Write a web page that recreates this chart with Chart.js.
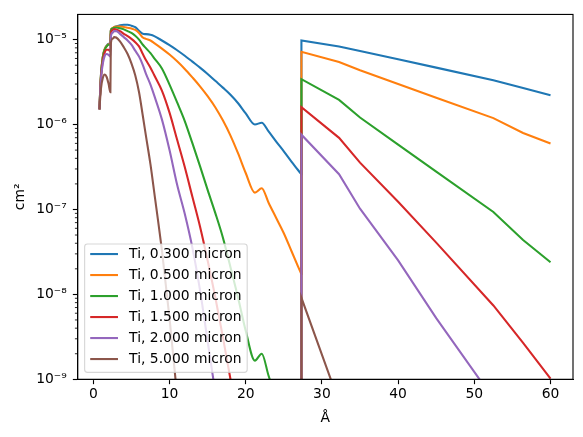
<!DOCTYPE html>
<html>
<head>
<meta charset="utf-8">
<script src="https://cdn.jsdelivr.net/npm/chart.js@4.4.1/dist/chart.umd.min.js"></script>
<style>
html,body{margin:0;padding:0;background:#fff;}
canvas{display:block;}
</style>
</head>
<body>
<canvas id="c" width="583" height="437"></canvas>
<script>
// Wavelength grid (Å)
const wavelength = [0.8, 1.0, 1.25, 1.5, 1.75, 2.0, 2.24, 2.3, 2.5, 2.75, 3.0, 3.5, 4.0, 4.5, 5.0, 5.5, 6.0, 6.5, 6.9, 7.5, 8.0,
  9.0, 10.0, 11.0, 12.0, 13.0, 14.0, 15.0, 16.0, 17.0, 18.0, 19.0, 20.0,
  21.2, 22.1, 23.0, 24.0, 25.0, 26.0,
  27.29, 27.31,
  32.25, 35.0, 40.0, 45.0, 52.5, 56.4, 60.0];
// index of the last point below the Ti L edge
const edgeIndex = 39;

// Series values (cm^2)
const ti0300 = [1.51e-6, 3.80e-6, 6.31e-6, 7.76e-6, 8.51e-6, 8.91e-6, 9.12e-6, 1.29e-5,
  1.35e-5, 1.40e-5, 1.43e-5, 1.48e-5, 1.50e-5, 1.50e-5, 1.46e-5, 1.40e-5, 1.27e-5, 1.17e-5, 1.16e-5, 1.14e-5, 1.10e-5,
  9.77e-6, 8.61e-6, 7.50e-6, 6.46e-6, 5.50e-6, 4.68e-6, 3.94e-6, 3.27e-6, 2.72e-6, 2.24e-6, 1.78e-6, 1.35e-6,
  1.00e-6, 1.05e-6, 8.32e-7, 6.31e-7, 4.84e-7, 3.67e-7,
  2.60e-7, 9.77e-6,
  8.32e-6, 7.35e-6, 5.86e-6, 4.68e-6, 3.33e-6, 2.69e-6, 2.21e-6];
const ti0500 = [1.51e-6, 3.80e-6, 6.31e-6, 7.76e-6, 8.41e-6, 8.81e-6, 9.02e-6, 1.29e-5,
  1.36e-5, 1.41e-5, 1.43e-5, 1.43e-5, 1.41e-5, 1.38e-5, 1.35e-5, 1.30e-5, 1.20e-5, 1.06e-5, 1.02e-5, 9.77e-6, 9.12e-6,
  7.85e-6, 6.68e-6, 5.56e-6, 4.52e-6, 3.59e-6, 2.82e-6, 2.16e-6, 1.60e-6, 1.12e-6, 7.41e-7, 4.57e-7, 2.69e-7,
  1.58e-7, 1.78e-7, 1.20e-7, 7.94e-8, 5.25e-8, 3.24e-8,
  1.74e-8, 7.19e-6,
  5.45e-6, 4.36e-6, 3.01e-6, 2.07e-6, 1.19e-6, 7.96e-7, 5.97e-7];
const ti1000 = [1.51e-6, 3.72e-6, 6.17e-6, 7.59e-6, 8.32e-6, 8.71e-6, 8.71e-6, 1.26e-5,
  1.35e-5, 1.38e-5, 1.39e-5, 1.36e-5, 1.32e-5, 1.26e-5, 1.20e-5, 1.11e-5, 1.00e-5, 8.71e-6, 7.94e-6, 6.92e-6, 6.03e-6,
  4.57e-6, 2.95e-6, 1.82e-6, 1.10e-6, 6.03e-7, 3.24e-7, 1.70e-7, 9.12e-8, 4.68e-8, 2.09e-8, 9.12e-9, 3.72e-9,
  1.66e-9, 2.00e-9, 1.10e-9, 5.89e-10, null, null,
  1e-12, 3.42e-6,
  1.95e-6, 1.21e-6, 5.81e-7, 2.79e-7, 9.33e-8, 4.37e-8, 2.39e-8];
const ti1500 = [1.51e-6, 3.55e-6, 5.75e-6, 7.08e-6, 7.59e-6, 7.59e-6, 7.24e-6, 1.17e-5,
  1.29e-5, 1.33e-5, 1.32e-5, 1.26e-5, 1.17e-5, 1.10e-5, 1.02e-5, 9.33e-6, 8.32e-6, 6.76e-6, 5.75e-6, 4.68e-6, 3.80e-6,
  2.51e-6, 1.38e-6, 6.61e-7, 3.16e-7, 1.41e-7, 6.31e-8, 2.51e-8, 9.33e-9, 3.16e-9, 1.00e-9, 3.16e-10, null,
  null, null, null, null, null, null,
  1e-12, 1.60e-6,
  6.97e-7, 3.56e-7, 1.23e-7, 4.07e-8, 7.41e-9, 2.69e-9, 1.02e-9];
const ti2000 = [1.51e-6, 3.39e-6, 5.25e-6, 6.46e-6, 6.76e-6, 6.61e-6, 6.31e-6, 1.07e-5,
  1.20e-5, 1.26e-5, 1.26e-5, 1.17e-5, 1.07e-5, 9.77e-6, 8.71e-6, 7.41e-6, 6.31e-6, 5.01e-6, 3.98e-6, 2.95e-6, 2.19e-6,
  1.15e-6, 5.01e-7, 1.95e-7, 8.91e-8, 3.55e-8, 1.12e-8, 2.82e-9, 7.08e-10, null, null, null, null,
  null, null, null, null, null, null,
  1e-12, 7.60e-7,
  2.60e-7, 1.02e-7, 2.51e-8, 5.25e-9, 5.89e-10, null, null];
const ti5000 = [1.51e-6, 2.63e-6, 3.55e-6, 3.89e-6, 3.63e-6, 3.02e-6, 2.40e-6, 8.91e-6,
  1.02e-5, 1.07e-5, 1.06e-5, 9.55e-6, 8.13e-6, 6.76e-6, 5.25e-6, 3.80e-6, 2.40e-6, 1.26e-6, 7.41e-7, 3.39e-7, 1.58e-7,
  3.31e-8, 5.25e-9, 6.31e-10, null, null, null, null, null, null, null, null, null,
  null, null, null, null, null, null,
  1e-12, 9.12e-9,
  5.37e-10, null, null, null, null, null, null];

const seriesLabels = ['Ti, 0.300 micron', 'Ti, 0.500 micron', 'Ti, 1.000 micron',
  'Ti, 1.500 micron', 'Ti, 2.000 micron', 'Ti, 5.000 micron'];
const seriesColors = ['#1f77b4', '#ff7f0e', '#2ca02c', '#d62728', '#9467bd', '#8c564b'];
const seriesValues = [ti0300, ti0500, ti1000, ti1500, ti2000, ti5000];

const xTicks = [0, 10, 20, 30, 40, 50, 60];
const yTicks = [1e-9, 1e-8, 1e-7, 1e-6, 1e-5];

const FS = 13.89;
const FAMILY = '"DejaVu Sans", "Liberation Sans", sans-serif';
Chart.defaults.font.family = FAMILY;
Chart.defaults.font.size = FS;
Chart.defaults.color = '#000';

const SUP = {'-': '\u207B', '0': '\u2070', '1': '\u00B9', '2': '\u00B2', '3': '\u00B3', '4': '\u2074',
  '5': '\u2075', '6': '\u2076', '7': '\u2077', '8': '\u2078', '9': '\u2079'};
function powLabel(v) {
  const e = Math.round(Math.log10(v));
  return '10' + String(e).split('').map(c => SUP[c]).join('');
}

function points(vals, from, to) {
  const out = [];
  for (let j = from; j <= to; j++) out.push({x: wavelength[j], y: vals[j]});
  return out;
}

const datasets = [];
seriesValues.forEach((vals, i) => {
  const common = {
    label: seriesLabels[i],
    borderColor: seriesColors[i],
    backgroundColor: seriesColors[i],
    borderWidth: 2.08,
    pointRadius: 0,
    pointHoverRadius: 0,
    fill: false,
    spanGaps: false,
    clip: 0,
    order: seriesValues.length - 1 - i
  };
  // smooth, densely sampled part below the edge
  datasets.push(Object.assign({}, common, {
    data: points(vals, 0, edgeIndex),
    cubicInterpolationMode: 'monotone'
  }));
  // sparse tabulated part from the edge on
  datasets.push(Object.assign({}, common, {
    data: points(vals, edgeIndex, wavelength.length - 1),
    tension: 0
  }));
});

const framePlugin = {
  id: 'frame',
  afterDatasetsDraw(chart) {
    const {ctx, chartArea: a, scales: {y}} = chart;
    ctx.save();
    ctx.strokeStyle = '#000';
    ctx.lineWidth = 0.83;
    for (let e = -9; e <= -5; e++) {
      for (let k = 2; k <= 9; k++) {
        const v = k * Math.pow(10, e);
        if (v > y.max) continue;
        const py = y.getPixelForValue(v);
        ctx.beginPath();
        ctx.moveTo(a.left, py);
        ctx.lineTo(a.left - 2.78, py);
        ctx.stroke();
      }
    }
    ctx.lineWidth = 1.11;
    ctx.strokeRect(a.left, a.top, a.right - a.left, a.bottom - a.top);
    ctx.restore();
  },
  afterDraw(chart) {
    const {ctx, chartArea: a} = chart;
    ctx.save();
    ctx.font = FS + 'px ' + FAMILY;
    const pad = 0.4 * FS, handle = 2 * FS, gap = 0.8 * FS, rowH = 21;
    const textW = Math.max(...seriesLabels.map(t => ctx.measureText(t).width));
    const w = pad + handle + gap + textW + pad;
    const h = 128.3;
    const x0 = a.left + 0.5 * FS;
    const y0 = a.bottom - 0.5 * FS - h;
    const r = 2.8;
    ctx.beginPath();
    ctx.moveTo(x0 + r, y0);
    ctx.lineTo(x0 + w - r, y0);
    ctx.arcTo(x0 + w, y0, x0 + w, y0 + r, r);
    ctx.lineTo(x0 + w, y0 + h - r);
    ctx.arcTo(x0 + w, y0 + h, x0 + w - r, y0 + h, r);
    ctx.lineTo(x0 + r, y0 + h);
    ctx.arcTo(x0, y0 + h, x0, y0 + h - r, r);
    ctx.lineTo(x0, y0 + r);
    ctx.arcTo(x0, y0, x0 + r, y0, r);
    ctx.closePath();
    ctx.fillStyle = 'rgba(255,255,255,0.8)';
    ctx.fill();
    ctx.strokeStyle = 'rgba(204,204,204,0.8)';
    ctx.lineWidth = 1.11;
    ctx.stroke();
    ctx.textBaseline = 'middle';
    ctx.textAlign = 'left';
    seriesLabels.forEach((t, i) => {
      const cy = y0 + 10 + i * rowH;
      ctx.strokeStyle = seriesColors[i];
      ctx.lineWidth = 2.08;
      ctx.beginPath();
      ctx.moveTo(x0 + pad, cy);
      ctx.lineTo(x0 + pad + handle, cy);
      ctx.stroke();
      ctx.fillStyle = '#000';
      ctx.fillText(t, x0 + pad + handle + gap, cy);
    });
    ctx.restore();
  }
};

new Chart(document.getElementById('c'), {
  type: 'line',
  data: {datasets: datasets},
  options: {
    responsive: false,
    animation: false,
    devicePixelRatio: 1,
    events: [],
    layout: {padding: {left: 0, right: 10, top: 10.3, bottom: 0}},
    plugins: {legend: {display: false}, tooltip: {enabled: false}},
    scales: {
      x: {
        type: 'linear',
        min: -2.05,
        max: 62.95,
        afterBuildTicks: s => { s.ticks = xTicks.map(v => ({value: v})); },
        afterFit: s => { s.height = 57.7; },
        grid: {drawOnChartArea: false, drawTicks: true, tickLength: 4.86, tickWidth: 1.11, tickColor: '#000'},
        border: {display: true, color: '#000', width: 1.11},
        ticks: {padding: 2, maxRotation: 0, autoSkip: false, color: '#000', font: {size: FS},
          callback: v => String(v)},
        title: {display: true, text: 'Å', color: '#000', font: {size: FS}, padding: {top: 0, bottom: 10.2}}
      },
      y: {
        type: 'logarithmic',
        min: 1e-9,
        max: 1.98e-5,
        afterBuildTicks: s => { s.ticks = yTicks.map(v => ({value: v})); },
        afterFit: s => { s.width = 77.7; },
        grid: {drawOnChartArea: false, drawTicks: true, tickLength: 4.86, tickWidth: 1.11, tickColor: '#000'},
        border: {display: true, color: '#000', width: 1.11},
        ticks: {padding: 6.1, autoSkip: false, color: '#000', font: {size: FS},
          callback: v => powLabel(v)},
        title: {display: true, text: 'cm²', color: '#000', font: {size: FS}, padding: {top: 11.7, bottom: 0}}
      }
    }
  },
  plugins: [framePlugin]
});
</script>
</body>
</html>
